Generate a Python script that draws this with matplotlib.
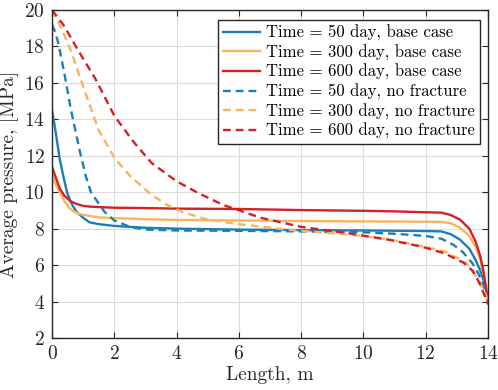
import matplotlib
matplotlib.use("Agg")
import matplotlib.pyplot as plt
import numpy as np

plt.rcParams['font.family'] = ['cmr10', 'DejaVu Serif']
plt.rcParams['mathtext.fontset'] = 'cm'
plt.rcParams['axes.formatter.use_mathtext'] = True

# Base case (solid)
x_b50 = [0, 0.1, 0.25, 0.4, 0.5, 0.65, 0.8, 1.0, 1.2, 1.5, 2, 3, 4, 6, 8, 10, 12, 12.5, 12.8, 13.1, 13.4, 13.6, 13.75, 13.85, 13.93, 14]
p_b50 = [14.5, 13.5, 11.8, 10.6, 9.9, 9.3, 8.9, 8.6, 8.35, 8.25, 8.15, 8.05, 8.0, 7.95, 7.92, 7.9, 7.87, 7.85, 7.7, 7.4, 6.9, 6.3, 5.7, 5.2, 4.7, 4.1]
x_b300 = [0, 0.1, 0.25, 0.4, 0.55, 0.7, 0.9, 1.2, 1.5, 2, 3, 4, 6, 8, 10, 12, 12.5, 12.8, 13.1, 13.4, 13.6, 13.75, 13.85, 13.93, 14]
p_b300 = [10.9, 10.5, 10.0, 9.5, 9.15, 8.95, 8.8, 8.7, 8.62, 8.58, 8.52, 8.48, 8.45, 8.42, 8.4, 8.38, 8.37, 8.3, 8.05, 7.6, 7.0, 6.3, 5.6, 4.9, 4.1]
x_b600 = [0, 0.1, 0.25, 0.4, 0.6, 0.8, 1.0, 1.3, 1.7, 2, 3, 4, 6, 8, 10, 11, 12, 12.5, 12.8, 13.1, 13.4, 13.6, 13.75, 13.85, 13.93, 14]
p_b600 = [11.4, 10.9, 10.2, 9.8, 9.5, 9.35, 9.25, 9.2, 9.17, 9.15, 9.13, 9.1, 9.08, 9.02, 8.98, 8.95, 8.9, 8.88, 8.75, 8.5, 8.0, 7.3, 6.5, 5.7, 4.8, 3.9]

# No fracture (dashed)
x_n50 = [0, 0.1, 0.2, 0.4, 0.6, 0.9, 1.1, 1.25, 1.45, 1.7, 2.0, 2.5, 3, 4, 6, 8, 10, 11, 12, 12.5, 12.9, 13.2, 13.5, 13.7, 13.85, 14]
p_n50 = [19.2, 18.8, 18.2, 16.5, 14.6, 12.2, 10.8, 10.0, 9.5, 8.9, 8.45, 8.1, 7.95, 7.9, 7.88, 7.85, 7.8, 7.72, 7.6, 7.45, 7.1, 6.7, 6.1, 5.5, 4.9, 4.2]
x_n300 = [0, 0.3, 0.6, 1.0, 1.5, 2.0, 2.5, 3.2, 3.7, 4.2, 5, 6, 7.5, 9, 10, 11, 12, 12.6, 13.0, 13.3, 13.55, 13.75, 13.9, 14]
p_n300 = [20.0, 19.0, 17.8, 15.8, 13.4, 11.9, 10.9, 9.85, 9.3, 8.9, 8.5, 8.25, 7.95, 7.75, 7.6, 7.35, 7.0, 6.75, 6.4, 6.1, 5.6, 5.0, 4.5, 4.0]
x_n600 = [0, 0.4, 0.8, 1.4, 2.0, 2.6, 3.2, 4.0, 4.7, 5.5, 6.7, 8, 9.5, 10.8, 11.9, 12.6, 13.2, 13.5, 13.7, 13.85, 14]
p_n600 = [20.0, 19.1, 17.9, 16.2, 14.2, 12.8, 11.6, 10.6, 9.95, 9.3, 8.6, 8.1, 7.75, 7.4, 7.0, 6.65, 6.15, 5.7, 5.1, 4.5, 3.9]

labels = ["Time = 50 day, base case", "Time = 300 day, base case", "Time = 600 day, base case",
          "Time = 50 day, no fracture", "Time = 300 day, no fracture", "Time = 600 day, no fracture"]

c_blue = '#1a7fb8'
c_orange = '#f9b45a'
c_red = '#d42027'

fig = plt.figure(figsize=(4.98, 3.9), dpi=100)
ax = fig.add_axes([0.1044, 0.1333, 0.8755, 0.8411])

lw = 1.7
dash = (0, (3.3, 2.1))
ax.plot(x_b50, p_b50, color=c_blue, lw=lw, label=labels[0])
ax.plot(x_b300, p_b300, color=c_orange, lw=lw, label=labels[1])
ax.plot(x_b600, p_b600, color=c_red, lw=lw, label=labels[2])
ax.plot(x_n50, p_n50, color=c_blue, lw=lw, ls=dash, label=labels[3])
ax.plot(x_n300, p_n300, color=c_orange, lw=lw, ls=dash, label=labels[4])
ax.plot(x_n600, p_n600, color=c_red, lw=lw, ls=dash, label=labels[5])

ax.set_xlim(0, 14)
ax.set_ylim(2, 20)
ax.set_xticks(np.arange(0, 15, 2))
ax.set_yticks(np.arange(2, 21, 2))
ax.grid(True, color='#dcdcdc', lw=0.8)
ax.set_axisbelow(True)
ax.tick_params(direction='in', top=True, right=True, labelsize=14, colors='#262626', length=4, pad=5)
for s in ax.spines.values():
    s.set_color('#262626')
    s.set_linewidth(1.0)

ax.set_xlabel("Length, m", fontsize=14, color='#262626', labelpad=2)
ax.set_ylabel("Average pressure, [MPa]", fontsize=14, color='#262626', labelpad=4)

leg = ax.legend(loc='upper right', fontsize=12, frameon=True, fancybox=False,
                edgecolor='#262626', framealpha=1, handlelength=2.2, handletextpad=0.4,
                borderpad=0.3, labelspacing=0.2, borderaxespad=0,
                bbox_to_anchor=(0.982, 0.970))
leg.get_frame().set_linewidth(1.0)

fig.savefig("out.png", dpi=100)
